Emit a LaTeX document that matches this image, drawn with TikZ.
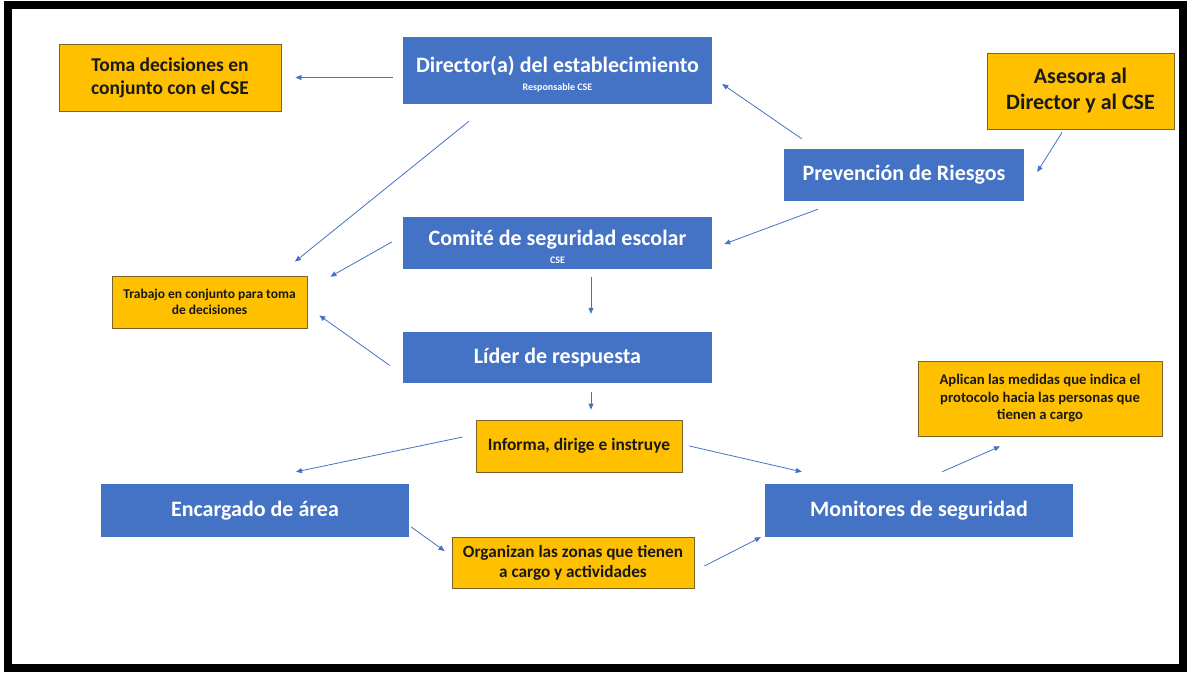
\documentclass[tikz,border=0pt]{standalone}
\usepackage{fontspec}
\setmainfont{Carlito}
\usetikzlibrary{arrows.meta,calc}
\definecolor{blau}{HTML}{4472C4}
\definecolor{gelb}{HTML}{FFC000}
\definecolor{rand}{HTML}{7A6428}
\newcommand{\zweizeilig}[2]{\rule{0pt}{23pt}#1\\[-8pt]{\fontsize{10}{12}\selectfont #2}}
\tikzset{
	bluebox/.style={fill=blau,text=white,inner sep=0pt,align=center,
		font=\bfseries\fontsize{22}{26}\selectfont},
	yellowbox/.style={fill=gelb,draw=rand,line width=0.8pt,text=black!90,
		inner sep=0pt,align=center},
	link/.style={draw=blau,line width=0.8pt,-{Triangle[width=5pt,length=6pt]}}
}
\begin{document}
\begin{tikzpicture}[x=1pt,y=-1pt]
%Gitter
%\draw[step=50pt,very thin,black!20] (0,0) grid(1191,675);
\useasboundingbox (0,0) rectangle (1191,675);
\draw[line width=8pt] (7.5,5) rectangle (1183,668);

%blaue Kaesten
\node[bluebox,minimum width=309pt,minimum height=67pt] (dir) at (557.5,70.5)
	{\zweizeilig{Director(a) del establecimiento}{Responsable CSE}};
\node[bluebox,minimum width=240pt,minimum height=52pt] (prev) at (904,175) {Prevención de Riesgos};
\node[bluebox,minimum width=309pt,minimum height=52pt] (comite) at (557.5,243)
	{\zweizeilig{Comité de seguridad escolar}{CSE}};
\node[bluebox,minimum width=309pt,minimum height=51pt] (lider) at (557.5,357.5) {Líder de respuesta};
\node[bluebox,minimum width=308pt,minimum height=53pt] (enc) at (255,510.5) {Encargado de área};
\node[bluebox,minimum width=308pt,minimum height=53pt] (monit) at (919,510.5) {Monitores de seguridad};

%gelbe Kaesten
\node[yellowbox,minimum width=222pt,minimum height=67pt,font=\bfseries\fontsize{19.5}{23}\selectfont] (toma) at (170,77.5)
	{Toma decisiones en\\conjunto con el CSE};
\node[yellowbox,minimum width=187pt,minimum height=76pt,font=\bfseries\fontsize{22}{26}\selectfont] (ases) at (1080.5,91)
	{Asesora al\\Director y al CSE};
\node[yellowbox,minimum width=195pt,minimum height=52pt,font=\bfseries\fontsize{13.5}{16}\selectfont] (trab) at (209.5,302)
	{Trabajo en conjunto para toma\\de decisiones};
\node[yellowbox,minimum width=206pt,minimum height=52pt,font=\bfseries\fontsize{17.4}{20}\selectfont] (inform) at (579,446)
	{Informa, dirige e instruye};
\node[yellowbox,minimum width=242pt,minimum height=51pt,font=\bfseries\fontsize{17.2}{20}\selectfont] (organ) at (573,562.5)
	{Organizan las zonas que tienen\\a cargo y actividades};
\node[yellowbox,minimum width=244pt,minimum height=75pt,font=\bfseries\fontsize{14.7}{17.5}\selectfont] (aplic) at (1040,398.5)
	{Aplican las medidas que indica el\\protocolo hacia las personas que\\tienen a cargo};

%Pfeile
\draw[link] ($(dir.west)+(-10,7)$) -- ($(toma.east)+(14,0)$);
\draw[link] ($(dir.south)+(-88.5,17)$) -- ($(trab.north)+(85.5,-14)$);
\draw[link] ($(prev.north west)+(18,-10)$) -- ($(dir.east)+(10,13.5)$);
\draw[link] ($(ases.south)+(-18.5,3)$) -- ($(prev.east)+(13,-3)$);
\draw[link] ($(prev.south)+(-86,8)$) -- ($(comite.east)+(12,1)$);
\draw[link] ($(comite.west)+(-11,-1)$) -- ($(trab.north east)+(23,1)$);
\draw[link] ($(comite.south)+(33.5,8)$) -- ($(lider.north)+(33.5,-18)$);
\draw[link] ($(lider.west)+(-13,8)$) -- ($(trab.south east)+(12,-13)$);
\draw[link] ($(lider.south)+(33.5,9)$) -- ($(inform.north)+(12,-10)$);
\draw[link] ($(inform.west)+(-13,-9)$) -- ($(enc.north)+(41,-12)$);
\draw[link] ($(inform.east)+(7,0)$) -- ($(monit.north west)+(37,-12)$);
\draw[link] ($(enc.east)+(2,16.5)$) -- ($(organ.west)+(-7,-11.5)$);
\draw[link] ($(organ.east)+(10,3.5)$) -- ($(monit.south west)+(-4,0)$);
\draw[link] ($(monit.north)+(23,-12)$) -- ($(aplic.south)+(-40,10)$);
\end{tikzpicture}
\end{document}
